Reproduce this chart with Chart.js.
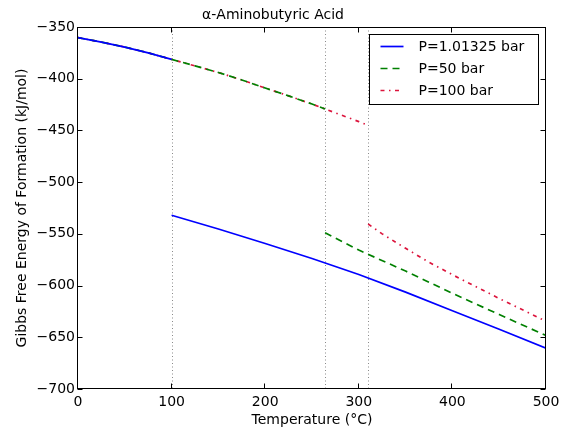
<!DOCTYPE html>
<html><head><meta charset="utf-8">
<script src="https://cdn.jsdelivr.net/npm/chart.js@4.4.1/dist/chart.umd.min.js"></script>
<style>html,body{margin:0;padding:0;background:#fff}#wrap{width:561px;height:429px}</style>
</head><body><div id="wrap"><canvas id="c" width="561" height="429"></canvas></div>
<script>
// ---- data ----
const seriesLabels = ['P=1.01325 bar', 'P=50 bar', 'P=100 bar'];
const transitionT = [100, 264, 310];           // phase-boundary temperatures (°C)
const solidT = [0, 25, 50, 75, 100, 125, 150, 175, 200, 225, 250, 264, 275, 300, 310];
const solidG = [-360.3, -364.6, -369.4, -375.0, -381.3, -387.6, -394.0, -401.2, -409.0, -416.6, -424.5, -429.3, -433.0, -441.5, -445.0];
const liquidT1 = [100, 150, 200, 250, 300, 350, 400, 450, 500];
const liquidG1 = [-532, -545.3, -559.3, -573.8, -589.3, -606.3, -624.3, -642.3, -660.5];
const liquidT50 = [264, 300, 350, 400, 450, 500];
const liquidG50 = [-549, -565.7, -586, -607.5, -628, -648.3];
const liquidT100 = [310, 325, 350, 375, 400, 450, 500];
const liquidG100 = [-540.5, -550, -564, -577.5, -589.5, -612.5, -634.5];
const xTicks = [0, 100, 200, 300, 400, 500];
const yTicks = [-700, -650, -600, -550, -500, -450, -400, -350];

// ---- styles ----
const colors = ['#0000ff', '#008000', '#dc143c'];
const dashes = [[], [7, 5], [4, 4.5, 1.5, 4.5]];
const FONT = 'DejaVu Sans';

function buildSeries(i, lT, lG) {
  const tr = transitionT[i];
  const pts = [];
  solidT.forEach((t, k) => { if (t <= tr) pts.push({x: t, y: solidG[k]}); });
  pts.push({x: tr, y: null});
  lT.forEach((t, k) => pts.push({x: t, y: lG[k]}));
  return pts;
}
const seriesData = [
  buildSeries(0, liquidT1, liquidG1),
  buildSeries(1, liquidT50, liquidG50),
  buildSeries(2, liquidT100, liquidG100)
];

const minus = v => (v < 0 ? '\u2212' + Math.abs(v) : String(v));

const decor = {
  id: 'decor',
  beforeDatasetsDraw(chart) {
    const {ctx, chartArea: a, scales: {x}} = chart;
    ctx.save();
    ctx.strokeStyle = '#8a8a8a';
    ctx.lineWidth = 1;
    ctx.setLineDash([1, 2.5]);
    transitionT.forEach(t => {
      const px = Math.round(x.getPixelForValue(t)) + 0.5;
      ctx.beginPath(); ctx.moveTo(px, a.top); ctx.lineTo(px, a.bottom); ctx.stroke();
    });
    ctx.restore();
  },
  afterDatasetsDraw(chart) {
    const {ctx, chartArea: a, scales: {x, y}} = chart;
    ctx.save();
    ctx.strokeStyle = '#000';
    ctx.lineWidth = 1;
    const L = Math.round(a.left) - 0.5, R = Math.round(a.right) - 0.5;
    const T = Math.round(a.top) + 0.5, B = Math.round(a.bottom) - 0.5;
    ctx.strokeRect(L, T, R - L, B - T);
    const tl = 5;
    xTicks.forEach(v => {
      const px = Math.round(x.getPixelForValue(v)) - 0.5;
      ctx.beginPath(); ctx.moveTo(px, B); ctx.lineTo(px, B - tl);
      ctx.moveTo(px, T); ctx.lineTo(px, T + tl); ctx.stroke();
    });
    yTicks.forEach(v => {
      const py = Math.round(y.getPixelForValue(v)) + 0.5;
      ctx.beginPath(); ctx.moveTo(L, py); ctx.lineTo(L + tl, py);
      ctx.moveTo(R, py); ctx.lineTo(R - tl, py); ctx.stroke();
    });
    // legend
    const bx = Math.round(a.right) - 177 + 0.5, by = Math.round(a.top) + 7 + 0.5, bw = 169, bh = 70;
    ctx.fillStyle = '#fff';
    ctx.fillRect(bx, by, bw, bh);
    ctx.strokeRect(bx, by, bw, bh);
    ctx.font = '14px "' + FONT + '"';
    ctx.textBaseline = 'middle';
    ctx.textAlign = 'left';
    chart.data.datasets.forEach((ds, i) => {
      const ry = by + 12 + i * 22;
      ctx.save();
      ctx.strokeStyle = ds.borderColor;
      ctx.lineWidth = ds.borderWidth;
      ctx.setLineDash(ds.borderDash || []);
      ctx.beginPath(); ctx.moveTo(bx + 11, ry); ctx.lineTo(bx + 34, ry); ctx.stroke();
      ctx.restore();
      ctx.fillStyle = '#000';
      ctx.fillText(ds.label, bx + 49, ry + 1);
    });
    ctx.restore();
  }
};

new Chart(document.getElementById('c'), {
  type: 'line',
  data: {
    datasets: seriesData.map((d, i) => ({
      label: seriesLabels[i],
      data: d,
      borderColor: colors[i],
      borderWidth: 1.7,
      borderDash: dashes[i],
      pointRadius: 0,
      fill: false,
      tension: 0,
      spanGaps: false
    }))
  },
  options: {
    responsive: false,
    animation: false,
    devicePixelRatio: 1,
    layout: {padding: {left: 0, right: 15, top: 0, bottom: 0}},
    plugins: {
      legend: {display: false},
      tooltip: {enabled: false},
      title: {
        display: true,
        text: 'α-Aminobutyric Acid',
        color: '#000',
        font: {family: FONT, size: 14, weight: 'normal'},
        padding: {top: 7.4, bottom: 2.8}
      }
    },
    scales: {
      x: {
        type: 'linear', min: 0, max: 500,
        afterBuildTicks: s => { s.ticks = xTicks.map(v => ({value: v})); },
        afterFit: s => { s.height = 40; s.paddingLeft = 0; s.paddingRight = 0; },
        grid: {display: false, drawTicks: false},
        border: {display: false},
        ticks: {color: '#000', padding: 5, maxRotation: 0, font: {family: FONT, size: 14}, callback: v => minus(v)},
        title: {display: true, text: 'Temperature (°C)', color: '#000', font: {family: FONT, size: 14}, padding: {top: 0, bottom: 0}}
      },
      y: {
        type: 'linear', min: -700, max: -350,
        afterBuildTicks: s => { s.ticks = yTicks.map(v => ({value: v})); },
        afterFit: s => { s.width = 78; s.paddingTop = 0; s.paddingBottom = 0; },
        grid: {display: false, drawTicks: false},
        border: {display: false},
        ticks: {color: '#000', padding: 3, font: {family: FONT, size: 14}, callback: v => minus(v)},
        title: {display: true, text: 'Gibbs Free Energy of Formation (kJ/mol)', color: '#000', font: {family: FONT, size: 14}, padding: {top: 14, bottom: 0}}
      }
    }
  },
  plugins: [decor]
});
</script>
</body></html>
